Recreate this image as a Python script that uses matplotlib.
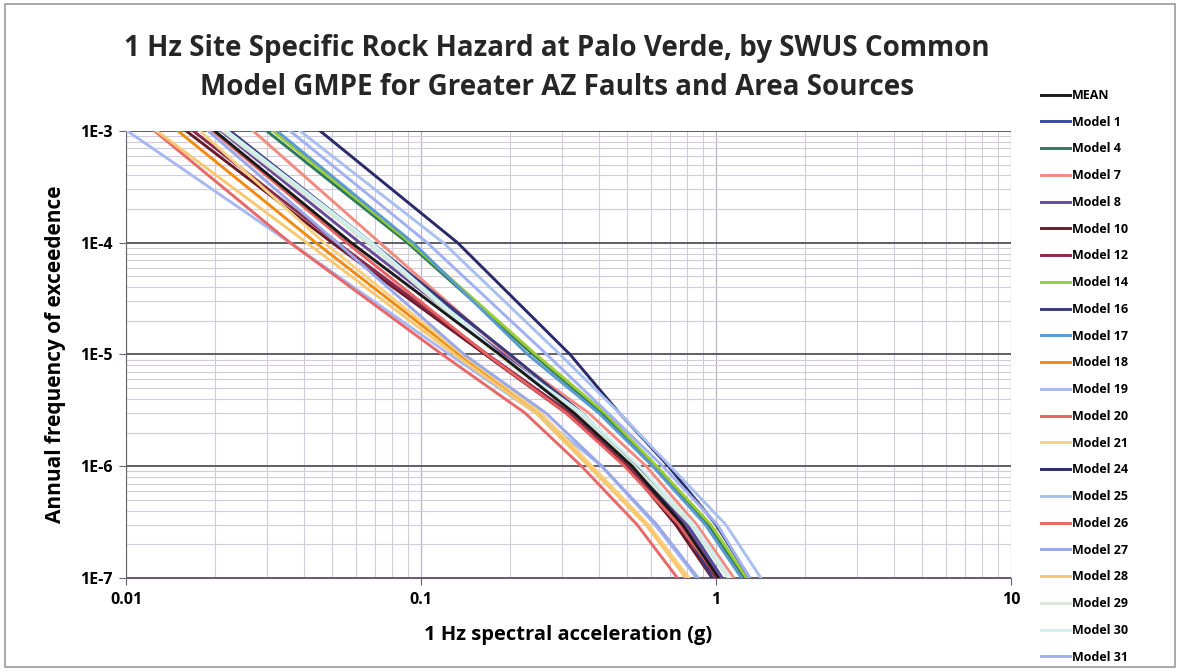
import numpy as np
import matplotlib.pyplot as plt
from matplotlib.patches import Rectangle
from matplotlib.ticker import FixedLocator, LogLocator, NullFormatter

plt.rcParams['font.family'] = ['Open Sans', 'DejaVu Sans']

# exceedance levels where each curve was read
afe = [1e-3, 1e-4, 1e-5, 3e-6, 1e-6, 3e-7, 1e-7]

# spectral acceleration (g) at each level, per model
names = ['MEAN', 'Model 1', 'Model 4', 'Model 7', 'Model 8', 'Model 10', 'Model 12',
         'Model 14', 'Model 16', 'Model 17', 'Model 18', 'Model 19', 'Model 20',
         'Model 21', 'Model 24', 'Model 25', 'Model 26', 'Model 27', 'Model 28',
         'Model 29', 'Model 30', 'Model 31']
sa_mean = [0.0200, 0.058, 0.185, 0.33, 0.52, 0.77, 1.02]
sa_m1 = [0.0225, 0.066, 0.200, 0.35, 0.54, 0.80, 1.05]
sa_m4 = [0.0300, 0.090, 0.240, 0.41, 0.62, 0.94, 1.25]
sa_m7 = [0.0270, 0.0725, 0.196, 0.37, 0.58, 0.86, 1.15]
sa_m8 = [0.0210, 0.062, 0.190, 0.34, 0.53, 0.79, 1.04]
sa_m10 = [0.0160, 0.050, 0.165, 0.31, 0.50, 0.73, 0.97]
sa_m12 = [0.0169, 0.052, 0.168, 0.32, 0.51, 0.75, 1.00]
sa_m14 = [0.0315, 0.092, 0.245, 0.42, 0.63, 0.96, 1.27]
sa_m16 = [0.0225, 0.068, 0.200, 0.35, 0.54, 0.77, 0.97]
sa_m17 = [0.0325, 0.094, 0.230, 0.40, 0.61, 0.92, 1.22]
sa_m18 = [0.0150, 0.044, 0.135, 0.25, 0.375, 0.58, 0.80]
sa_m19 = [0.0101, 0.036, 0.125, 0.245, 0.41, 0.62, 0.86]
sa_m20 = [0.0197, 0.056, 0.167, 0.31, 0.49, 0.75, 1.02]
sa_m21 = [0.0178, 0.047, 0.138, 0.255, 0.38, 0.59, 0.81]
sa_m24 = [0.0455, 0.133, 0.320, 0.47, 0.69, 1.00, 1.30]
sa_m25 = [0.0389, 0.119, 0.296, 0.47, 0.70, 1.08, 1.42]
sa_m26 = [0.0125, 0.036, 0.118, 0.225, 0.35, 0.54, 0.74]
sa_m27 = [0.0190, 0.052, 0.140, 0.265, 0.41, 0.63, 0.87]
sa_m28 = [0.0127, 0.041, 0.130, 0.245, 0.37, 0.58, 0.79]
sa_m29 = [0.0213, 0.066, 0.181, 0.34, 0.53, 0.82, 1.10]
sa_m30 = [0.0220, 0.068, 0.185, 0.35, 0.55, 0.84, 1.12]
sa_m31 = [0.0360, 0.105, 0.267, 0.43, 0.66, 1.01, 1.30]

curves = [sa_mean, sa_m1, sa_m4, sa_m7, sa_m8, sa_m10, sa_m12, sa_m14, sa_m16, sa_m17,
          sa_m18, sa_m19, sa_m20, sa_m21, sa_m24, sa_m25, sa_m26, sa_m27, sa_m28,
          sa_m29, sa_m30, sa_m31]
colors = ['#1a1a1a', '#3a4a9a', '#2e7a5a', '#f28a80', '#6a4a9a', '#6a1a2a', '#8a2a4a',
          '#9acd32', '#3a3a7a', '#5a9ad0', '#f08a10', '#a8b8f0', '#e86060', '#f8d080',
          '#2a2a6a', '#a8c0f0', '#e86868', '#98a8e8', '#f8c870', '#d8e8d8', '#d0f0f0',
          '#a0b0f0']

fig = plt.figure(figsize=(11.8, 6.71), dpi=100)
fig.patches.append(Rectangle((0.004, 0.006), 0.992, 0.988, transform=fig.transFigure,
                             fill=False, edgecolor='#999999', lw=1.2))
ax = fig.add_axes([0.1068, 0.1386, 0.75, 0.6662])

# draw mean last so it sits on top
order = list(range(1, len(names))) + [0]
for i in order:
    ax.plot(curves[i], afe, color=colors[i], lw=2.1, label=names[i],
            solid_joinstyle='round', zorder=3 if i else 4)

ax.set_xscale('log')
ax.set_yscale('log')
ax.set_xlim(0.01, 10)
ax.set_ylim(1e-7, 1e-3)

ax.xaxis.set_major_locator(FixedLocator([0.01, 0.1, 1, 10]))
ax.set_xticklabels(['0.01', '0.1', '1', '10'])
ax.yaxis.set_major_locator(FixedLocator([1e-7, 1e-6, 1e-5, 1e-4, 1e-3]))
ax.set_yticklabels(['1E-7', '1E-6', '1E-5', '1E-4', '1E-3'])
ax.xaxis.set_minor_locator(LogLocator(base=10, subs=np.arange(2, 10), numticks=20))
ax.yaxis.set_minor_locator(LogLocator(base=10, subs=np.arange(2, 10), numticks=20))
ax.xaxis.set_minor_formatter(NullFormatter())
ax.yaxis.set_minor_formatter(NullFormatter())

ax.grid(which='minor', axis='both', color='#d2ccda', lw=0.8)
ax.grid(which='major', axis='x', color='#bbb4c4', lw=0.9)
ax.grid(which='major', axis='y', color='#55505c', lw=1.3)
ax.set_axisbelow(True)
for s in ['top', 'right']:
    ax.spines[s].set_visible(False)
ax.spines['left'].set_color('#6a6070')
ax.spines['bottom'].set_color('#6a6070')
ax.tick_params(which='major', length=5, color='#6a6070', labelsize=11.5, pad=5)
ax.tick_params(which='minor', length=0)
for lab in ax.get_xticklabels() + ax.get_yticklabels():
    lab.set_fontweight('bold')

ax.set_xlabel('1 Hz spectral acceleration (g)', fontsize=14.5, fontweight='bold', labelpad=12)
ax.set_ylabel('Annual frequency of exceedence', fontsize=15, fontweight='bold', labelpad=10)
fig.text(0.472, 0.898, '1 Hz Site Specific Rock Hazard at Palo Verde, by SWUS Common\n'
         'Model GMPE for Greater AZ Faults and Area Sources',
         ha='center', va='center', fontsize=20, fontweight='bold', color='#262626',
         linespacing=1.45)

handles, labels = ax.get_legend_handles_labels()
lookup = dict(zip(labels, handles))
leg = fig.legend([lookup[n] for n in names], names, loc='upper left',
                 bbox_to_anchor=(0.878, 0.875), frameon=False, fontsize=9,
                 handlelength=2.3, labelspacing=1.1, handletextpad=0.2,
                 borderaxespad=0)
for t in leg.get_texts():
    t.set_fontweight('bold')

plt.savefig('out.png', dpi=100)
